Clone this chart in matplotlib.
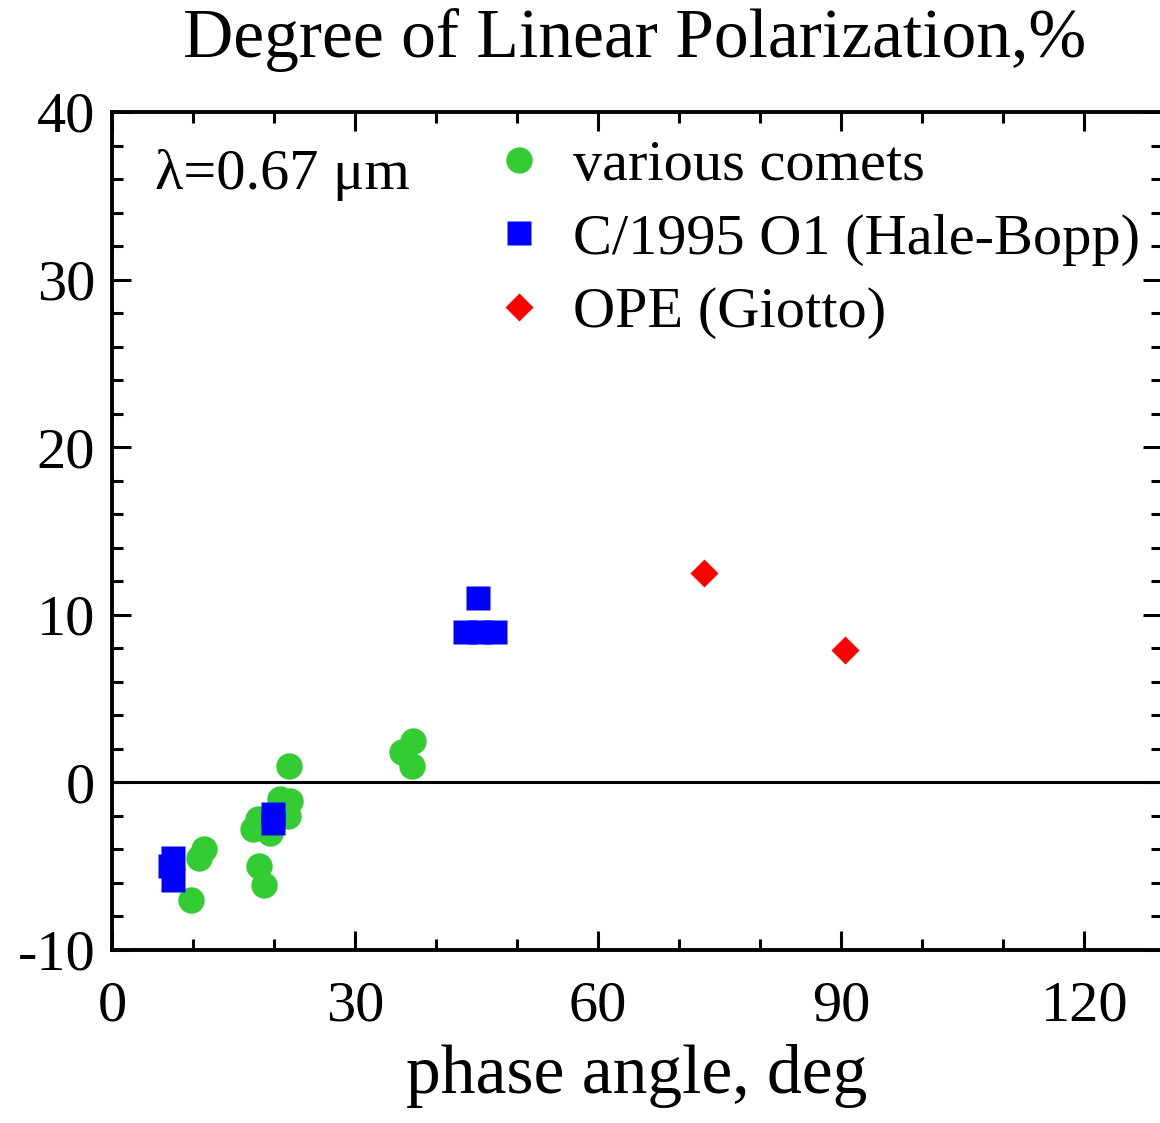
import numpy as np
import matplotlib.pyplot as plt
from matplotlib.ticker import MultipleLocator

plt.rcParams['font.family'] = ['Liberation Serif', 'DejaVu Serif']
plt.rcParams['axes.unicode_minus'] = False

# various comets
comet_x = [9.8, 10.7, 11.4, 17.4, 18.0, 18.1, 18.7, 19.5, 20.7, 21.7, 22.0, 21.8, 35.8, 37.0, 37.2]
comet_y = [-7.0, -4.5, -4.0, -2.8, -2.2, -5.0, -6.1, -3.0, -1.0, -2.0, -1.1, 1.0, 1.8, 1.0, 2.5]

# C/1995 O1 (Hale-Bopp)
hb_x = [7.5, 7.2, 7.5, 19.9, 19.9, 43.6, 45.4, 47.3, 45.2]
hb_y = [-4.5, -5.0, -5.8, -1.9, -2.4, 9.0, 9.0, 9.0, 11.0]

# OPE (Giotto)
ope_x = [73.1, 90.5]
ope_y = [12.5, 7.9]

fig = plt.figure(figsize=(11.6, 11.23), dpi=100)
ax = fig.add_axes([112/1160, 173/1123, 1050/1160, 838/1123])

ax.axhline(0, color='black', lw=2.2, zorder=1)

ax.plot(comet_x, comet_y, 'o', color='#33cc33', ms=19, mec='none', label='various comets', zorder=3)
ax.plot(hb_x, hb_y, 's', color='#0000ff', ms=17, mec='none', label='C/1995 O1 (Hale-Bopp)', zorder=4)
ax.plot(ope_x, ope_y, 'D', color='#ff0000', ms=14, mec='none', label='OPE (Giotto)', zorder=4)

ax.set_xlim(0, 129.6)
ax.set_ylim(-10, 40)
ax.xaxis.set_major_locator(MultipleLocator(30))
ax.xaxis.set_minor_locator(MultipleLocator(10))
ax.yaxis.set_major_locator(MultipleLocator(10))
ax.yaxis.set_minor_locator(MultipleLocator(2))
ax.tick_params(which='both', direction='in', top=True, right=True, width=2.2)
ax.tick_params(which='major', length=14, labelsize=42)
ax.tick_params(which='minor', length=8)
ax.tick_params(axis='x', which='major', pad=22)
ax.tick_params(axis='y', which='major', pad=12)
for s in ax.spines.values():
    s.set_linewidth(2.8)

ax.set_xlabel('phase angle, deg', fontsize=50, labelpad=8)
fig.text(0.547, 1 - 40/1123, 'Degree of Linear Polarization,%', fontsize=50, ha='center', va='center')

fig.text(155/1160, 1 - 175/1123, 'λ=0.67 μm', fontsize=42, va='center')

ax.legend(loc='upper left', bbox_to_anchor=(0.338, 0.995), frameon=False, fontsize=42,
          handlelength=1.0, handletextpad=0.42, labelspacing=0.35, borderaxespad=0, numpoints=1)

plt.savefig('out.png', dpi=100)
